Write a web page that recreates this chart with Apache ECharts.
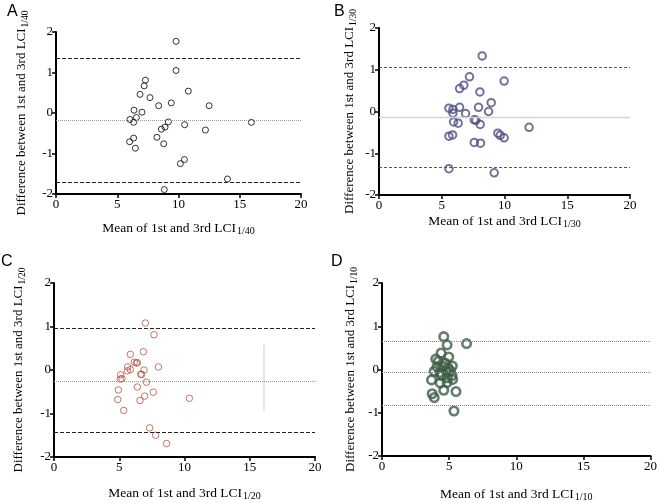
<!DOCTYPE html>
<html>
<head>
<meta charset="utf-8">
<script src="https://cdn.jsdelivr.net/npm/echarts@6/dist/echarts.min.js"></script>
<style>
html, body { margin: 0; background: #fff; }
#main { width: 660px; height: 503px; }
</style>
</head>
<body>
<div id="main"></div>
<script>
// panel A, LCI 1/40  [mean, difference]
var pointsA = [
	[9.8, 1.77], [9.8, 1.05], [7.3, 0.81], [7.2, 0.67], [6.86, 0.46], [7.67, 0.38],
	[10.8, 0.54], [8.38, 0.18], [9.41, 0.25], [12.5, 0.18], [6.37, 0.07], [7.02, 0.02],
	[6.04, -0.16], [6.56, -0.11], [6.34, -0.23], [9.17, -0.22], [8.9, -0.35], [8.6, -0.4],
	[10.5, -0.29], [12.2, -0.42], [15.95, -0.23], [8.24, -0.6], [6.34, -0.62], [6.01, -0.71],
	[8.79, -0.76], [6.48, -0.87], [10.48, -1.15], [10.15, -1.25], [14.0, -1.63], [8.84, -1.89]
];
var limitsA = [1.34, -0.18, -1.71];

// panel B, LCI 1/30
var pointsB = [
	[8.22, 1.33], [7.21, 0.83], [9.97, 0.73], [6.76, 0.63], [6.42, 0.55], [8.04, 0.47],
	[8.94, 0.21], [5.57, 0.08], [5.89, 0.05], [6.42, 0.10], [7.93, 0.10], [5.89, -0.04],
	[6.9, -0.05], [8.73, 0.0], [7.59, -0.2], [7.72, -0.21], [5.94, -0.25], [6.31, -0.28],
	[8.06, -0.31], [11.96, -0.38], [9.47, -0.52], [9.66, -0.57], [9.97, -0.63], [5.57, -0.59],
	[5.86, -0.56], [7.59, -0.74], [8.09, -0.76], [5.57, -1.37], [9.18, -1.47]
];
var limitsB = [1.07, -0.13, -1.33];

// panel C, LCI 1/20
var pointsC = [
	[7.0, 1.08], [7.66, 0.81], [6.85, 0.42], [5.85, 0.36], [6.16, 0.18], [6.31, 0.16],
	[6.39, 0.17], [5.65, 0.07], [5.85, 0.01], [5.62, -0.02], [6.9, 0.0], [8.0, 0.07],
	[5.11, -0.11], [5.21, -0.2], [5.08, -0.21], [6.64, -0.1], [6.72, -0.1], [7.08, -0.28],
	[6.39, -0.39], [4.93, -0.46], [7.61, -0.51], [6.95, -0.6], [4.88, -0.68], [6.59, -0.7],
	[10.37, -0.65], [5.34, -0.93], [7.33, -1.33], [7.79, -1.5], [8.63, -1.69]
];
var limitsC = [0.95, -0.25, -1.44];
var strayLineC = [[16.09, 0.59], [16.09, -0.94]];

// panel D, LCI 1/10
var pointsD = [
	[4.6, 0.76], [4.85, 0.57], [6.3, 0.6], [4.4, 0.38], [4.97, 0.29], [4.0, 0.24],
	[4.2, 0.19], [4.7, 0.15], [5.24, 0.08], [4.1, 0.06], [4.55, 0.07], [4.92, 0.04],
	[3.89, -0.04], [4.33, -0.07], [4.8, -0.05], [5.09, -0.03], [4.43, -0.14], [5.22, -0.14],
	[3.69, -0.24], [4.87, -0.19], [5.26, -0.23], [4.33, -0.31], [4.85, -0.3], [4.6, -0.48],
	[5.51, -0.51], [3.74, -0.56], [3.89, -0.65], [5.36, -0.96]
];
var limitsD = [0.66, -0.07, -0.82];

var panelLetters = ['A', 'B', 'C', 'D'];
var subscripts = ['1/40', '1/30', '1/20', '1/10'];

var chart = echarts.init(document.getElementById('main'));
var serif = '"Liberation Serif", "DejaVu Serif", serif';

var grids = [
	{ left: 56, top: 32, width: 245, height: 162 },
	{ left: 379, top: 28, width: 251, height: 167 },
	{ left: 54, top: 283, width: 261, height: 174 },
	{ left: 382, top: 283, width: 271, height: 181 }
];
var xNameGap = [26, 18, 28, 30];
var yNameGap = [26, 21, 27, 23];
var markStyles = [
	{ color: '#000', size: 6, border: 1 },
	{ color: '#4f4f82', size: 7.5, border: 2 },
	{ color: '#b25440', size: 6.5, border: 1 },
	{ color: '#3d5c48', size: 8.5, border: 2.6 }
];
// upper, mean, lower line styles
var lineStyles = [
	[{ color: '#222', type: [4, 2] }, { color: '#999', type: [1, 1] }, { color: '#222', type: [4, 2] }],
	[{ color: '#555', type: [3, 2] }, { color: '#d4d4d4', type: 'solid', width: 1.3 }, { color: '#555', type: [3, 2] }],
	[{ color: '#222', type: [4, 2] }, { color: '#999', type: [1, 1] }, { color: '#222', type: [4, 2] }],
	[{ color: '#888', type: [1, 1] }, { color: '#888', type: [1, 1] }, { color: '#888', type: [1, 1] }]
];
var allPoints = [pointsA, pointsB, pointsC, pointsD];
var allLimits = [limitsA, limitsB, limitsC, limitsD];
var letterPos = [[7, 4], [334, 4], [1, 254], [331, 254]];

var option = { animation: false, grid: [], xAxis: [], yAxis: [], series: [], graphic: [] };

for (var i = 0; i < 4; i++) {
	option.grid.push(grids[i]);
	option.xAxis.push({
		gridIndex: i, type: 'value', min: 0, max: 20, interval: 5,
		name: 'Mean of 1st and 3rd LCI{s|' + subscripts[i] + '}',
		nameLocation: 'middle', nameGap: xNameGap[i],
		nameTextStyle: {
			fontFamily: serif, fontSize: 13.5, color: '#000',
			rich: { s: { fontFamily: serif, fontSize: 10, color: '#000', padding: [6, 0, 0, 1] } }
		},
		axisLine: { onZero: false, lineStyle: { color: '#000', width: 2 } },
		axisTick: { length: 4, lineStyle: { color: '#000', width: 1.5 } },
		axisLabel: { fontFamily: serif, fontSize: 13, color: '#000', margin: 4 },
		splitLine: { show: false }
	});
	option.yAxis.push({
		gridIndex: i, type: 'value', min: -2, max: 2, interval: 1,
		name: 'Difference between 1st and 3rd LCI{s|' + subscripts[i] + '}',
		nameLocation: 'middle', nameGap: yNameGap[i], nameRotate: 90,
		nameTextStyle: {
			fontFamily: serif, fontSize: 13, color: '#000',
			rich: { s: { fontFamily: serif, fontSize: 9.5, color: '#000', padding: [6, 0, 0, 1] } }
		},
		axisLine: { onZero: false, lineStyle: { color: '#000', width: 2 } },
		axisTick: { length: 4, lineStyle: { color: '#000', width: 1.5 } },
		axisLabel: { fontFamily: serif, fontSize: 13, color: '#000', margin: 3 },
		splitLine: { show: false }
	});
	var ls = lineStyles[i];
	option.series.push({
		type: 'scatter', xAxisIndex: i, yAxisIndex: i,
		data: allPoints[i],
		symbol: 'circle', symbolSize: markStyles[i].size,
		itemStyle: { color: 'rgba(0,0,0,0)', borderColor: markStyles[i].color, borderWidth: markStyles[i].border },
		markLine: {
			silent: true, symbol: 'none', label: { show: false },
			data: allLimits[i].map(function (v, k) {
				return { yAxis: v, lineStyle: Object.assign({ width: 1 }, ls[k]) };
			})
		},
		z: 3
	});
	option.graphic.push({
		type: 'text', left: letterPos[i][0], top: letterPos[i][1],
		style: { text: panelLetters[i], font: '16px "Liberation Sans", Arial, sans-serif', fill: '#000' }
	});
}

option.series.push({
	type: 'line', xAxisIndex: 2, yAxisIndex: 2, data: strayLineC,
	symbol: 'none', lineStyle: { color: '#ccc', width: 1 }, z: 1
});

chart.setOption(option);
</script>
</body>
</html>
